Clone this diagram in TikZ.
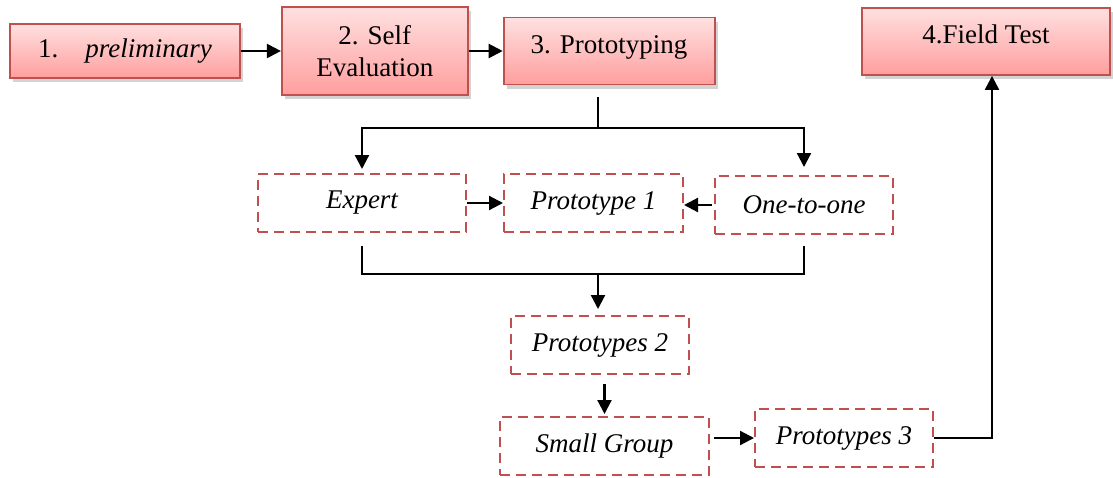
\documentclass[tikz,border=0pt]{standalone}
\usepackage{fontspec}
\setmainfont{Liberation Serif}
\usepackage{xcolor}
\usepackage{tikz}
\usetikzlibrary{arrows.meta,positioning,calc,shadows}

\definecolor{boxred}{RGB}{192,80,77}
\definecolor{pinktop}{RGB}{255,224,224}
\definecolor{pinkbot}{RGB}{255,158,158}

\begin{document}
\begin{tikzpicture}[
    x=0.5pt, y=-0.5pt,
    phase/.style={draw=boxred, line width=0.9pt, top color=pinktop, bottom color=pinkbot,
                  drop shadow={shadow xshift=1.5pt, shadow yshift=-2pt, opacity=0.35},
                  inner sep=2pt, align=center,
                  font=\fontsize{13.5}{16}\selectfont},
    trial/.style={draw=boxred, line width=1pt, dash pattern=on 5pt off 3pt,
                  minimum height=29pt, inner sep=2pt,
                  font=\fontsize{13.5}{16}\selectfont\itshape},
    arr/.style={-{Triangle[length=7pt,width=7pt]}, line width=1.1pt},
    link/.style={line width=0.9pt}
]
    \useasboundingbox (0,0) rectangle (1113,477);

    % Main phases
    \node[phase, minimum width=115pt, minimum height=27pt] (prelim) at (125,51)
        {1.\quad\textit{preliminary}};
    \node[phase, right=20pt of prelim, minimum width=93pt, minimum height=44pt] (selfeval)
        {2. Self\\Evaluation};
    \node[phase, right=17pt of selfeval, minimum width=105.5pt, minimum height=33.5pt,
          text depth=6pt] (proto) {3. Prototyping};
    \node[phase, minimum width=124pt, minimum height=33.5pt, text depth=7pt] (field)
        at (986,41.5) {4.Field Test};

    % Formative evaluation
    \node[trial, minimum width=104pt] (expert) at (362,203) {Expert};
    \node[trial, right=18pt of expert, minimum width=89.5pt] (proto1) {Prototype 1};
    \node[trial, right=15pt of proto1, minimum width=89pt, yshift=-1pt] (onetoone) {One-to-one};
    \node[trial, minimum width=89pt] (proto2) at (600,345) {Prototypes 2};
    \node[trial, minimum width=104.5pt] (smallgroup) at (604.5,446) {Small Group};
    \node[trial, right=22pt of smallgroup, minimum width=89pt, yshift=4pt] (proto3) {Prototypes 3};

    % Split and merge points
    \coordinate (split) at (598,128);
    \coordinate (merge) at (598,274);

    % Arrows
    \draw[arr] (prelim.east) -- (prelim.east -| selfeval.west);
    \draw[arr] (selfeval.east |- proto) -- (proto.west);

    \draw[link, shorten <=6pt] (split |- proto.south) -- (split);
    \draw[arr, shorten >=2pt] (split) -| (expert.north);
    \draw[arr, shorten >=4pt] (split) -| (onetoone.north);

    \draw[arr] (expert) -- (proto1);
    \draw[arr, shorten <=1pt] (onetoone.west) -- (onetoone.west -| proto1.east);

    \draw[link] ([yshift=-6.5pt]expert.south) |- (onetoone.south |- merge)
        -- ([yshift=-5.5pt]onetoone.south);
    \draw[arr, shorten >=3pt] (merge) -- (merge |- proto2.north);

    \draw[arr, shorten <=4.5pt, shorten >=1pt] (smallgroup.north |- proto2.south) -- (smallgroup.north);
    \draw[arr, shorten <=2pt] (proto3.west -| smallgroup.east) -- (proto3.west);
    \draw[arr] (proto3.east) -| ([xshift=3pt]field.south);
\end{tikzpicture}
\end{document}
